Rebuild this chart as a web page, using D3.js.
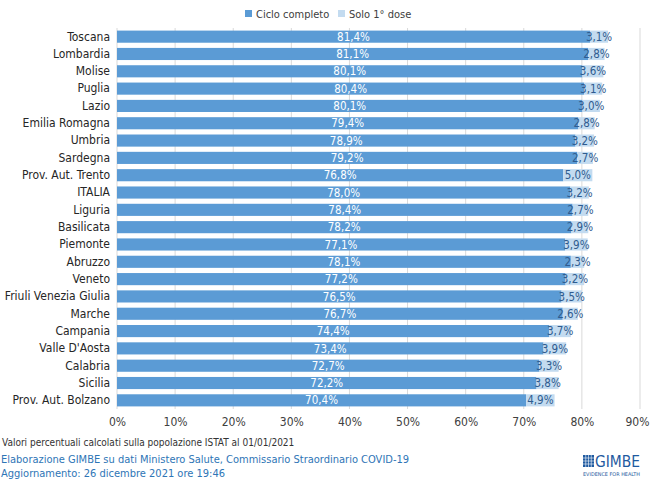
<!DOCTYPE html>
<html>
<head>
<meta charset="utf-8">
<script src="https://cdn.jsdelivr.net/npm/d3@7"></script>
<style>
  body { margin: 0; background: #fff; }
  text { font-family: "Liberation Sans Narrow", "Arial Narrow", "DejaVu Sans Condensed", sans-serif; }
</style>
</head>
<body>
<div id="chart"></div>
<script>
// Data
const regions = ["Toscana", "Lombardia", "Molise", "Puglia", "Lazio", "Emilia Romagna", "Umbria",
  "Sardegna", "Prov. Aut. Trento", "ITALIA", "Liguria", "Basilicata", "Piemonte", "Abruzzo",
  "Veneto", "Friuli Venezia Giulia", "Marche", "Campania", "Valle D'Aosta", "Calabria",
  "Sicilia", "Prov. Aut. Bolzano"];
const cicloCompleto = [81.4, 81.1, 80.1, 80.4, 80.1, 79.4, 78.9, 79.2, 76.8, 78.0, 78.4,
  78.2, 77.1, 78.1, 77.2, 76.5, 76.7, 74.4, 73.4, 72.7, 72.2, 70.4];
const soloPrimaDose = [3.1, 2.8, 3.6, 3.1, 3.0, 2.8, 3.2, 2.7, 5.0, 3.2, 2.7,
  2.9, 3.9, 2.3, 3.2, 3.5, 2.6, 3.7, 3.9, 3.3, 3.8, 4.9];
const xTicks = [0, 10, 20, 30, 40, 50, 60, 70, 80, 90];
const seriesNames = ["Ciclo completo", "Solo 1° dose"];

const colors = ["#5b9bd5", "#c3dbf0"];
const fmt = v => v.toFixed(1).replace(".", ",") + "%";

// Dimensions
const width = 650;
const height = 479;
const margin = {top: 28, right: 10, bottom: 70, left: 117};

const svg = d3.select("#chart")
  .append("svg")
    .attr("width", width)
    .attr("height", height);

const data = regions.map((r, i) => ({region: r, full: cicloCompleto[i], first: soloPrimaDose[i]}));

// Scales
const x = d3.scaleLinear().domain([0, 90]).range([margin.left, 640]);
const y = d3.scaleBand().domain(regions).range([margin.top, height - margin.bottom]).paddingInner(0.3).paddingOuter(0.15);

// Gridlines
svg.append("g")
  .selectAll("line")
  .data(xTicks)
  .join("line")
    .attr("x1", d => x(d)).attr("x2", d => x(d))
    .attr("y1", margin.top).attr("y2", height - margin.bottom)
    .attr("stroke", "#d9d9d9")
    .attr("stroke-width", 1);

// Bars
const rows = svg.append("g")
  .selectAll("g")
  .data(data)
  .join("g");

rows.append("rect")
  .attr("x", d => x(0))
  .attr("y", d => y(d.region))
  .attr("width", d => x(d.full) - x(0))
  .attr("height", y.bandwidth())
  .attr("fill", colors[0]);

rows.append("rect")
  .attr("x", d => x(d.full))
  .attr("y", d => y(d.region))
  .attr("width", d => x(d.full + d.first) - x(d.full))
  .attr("height", y.bandwidth())
  .attr("fill", colors[1]);

// Value labels
rows.append("text")
  .attr("x", d => (x(0) + x(d.full)) / 2)
  .attr("y", d => y(d.region) + y.bandwidth() / 2)
  .attr("dy", "0.36em")
  .attr("text-anchor", "middle")
  .attr("fill", "#fff")
  .attr("font-size", 11.5)
  .text(d => fmt(d.full));

rows.append("text")
  .attr("x", d => (x(d.full) + x(d.full + d.first)) / 2)
  .attr("y", d => y(d.region) + y.bandwidth() / 2)
  .attr("dy", "0.36em")
  .attr("text-anchor", "middle")
  .attr("fill", "#2f5b8f")
  .attr("font-size", 11.5)
  .text(d => fmt(d.first));

// y axis labels
svg.append("g")
  .attr("transform", `translate(${margin.left}, 0)`)
  .call(d3.axisLeft(y).tickSize(0).tickPadding(7))
  .call(g => g.select(".domain").remove())
  .call(g => g.selectAll("text")
    .attr("font-size", 12)
    .attr("fill", "#262626")
    .style("font-family", null));

// x axis
svg.append("g")
  .attr("transform", `translate(0, ${height - margin.bottom})`)
  .call(d3.axisBottom(x).tickValues(xTicks).tickFormat(d => d + "%").tickSize(0).tickPadding(8))
  .call(g => g.select(".domain").remove())
  .call(g => g.selectAll("text")
    .attr("font-size", 12)
    .attr("fill", "#404040")
    .style("font-family", null))
  // last label sits flush with the right edge
  .call(g => g.selectAll(".tick:last-of-type text")
    .attr("text-anchor", "end")
    .attr("dx", 9));

// Legend
const legend = svg.append("g").attr("transform", "translate(245, 14)");
const legendX = [0, 93];
seriesNames.forEach((name, i) => {
  legend.append("rect")
    .attr("x", legendX[i]).attr("y", -4)
    .attr("width", 7).attr("height", 7)
    .attr("fill", colors[i]);
  legend.append("text")
    .attr("x", legendX[i] + 11).attr("y", 0)
    .attr("dy", "0.36em")
    .attr("font-size", 11)
    .attr("fill", "#404040")
    .text(name);
});

// Footer notes
svg.append("text")
  .attr("x", 2).attr("y", 446)
  .attr("font-size", 10)
  .attr("fill", "#333")
  .text("Valori percentuali calcolati sulla popolazione ISTAT al 01/01/2021");

svg.append("text")
  .attr("x", 1).attr("y", 463)
  .attr("font-size", 11)
  .attr("fill", "#2e75b6")
  .text("Elaborazione GIMBE su dati Ministero Salute, Commissario Straordinario COVID-19");

svg.append("text")
  .attr("x", 1).attr("y", 477)
  .attr("font-size", 11)
  .attr("fill", "#2e75b6")
  .text("Aggiornamento: 26 dicembre 2021 ore 19:46");

// GIMBE logo
const logo = svg.append("g").attr("transform", "translate(583, 453)");
logo.append("rect").attr("x", 0).attr("y", 2).attr("width", 11).attr("height", 12).attr("fill", "#1f5aa0");
logo.selectAll(".gl")
  .data([2.75, 5.5, 8.25])
  .join("line")
    .attr("x1", d => d).attr("x2", d => d).attr("y1", 2).attr("y2", 14)
    .attr("stroke", "#fff").attr("stroke-width", 0.6);
logo.selectAll(".gh")
  .data([5, 8, 11])
  .join("line")
    .attr("x1", 0).attr("x2", 11).attr("y1", d => d).attr("y2", d => d)
    .attr("stroke", "#fff").attr("stroke-width", 0.6);
logo.append("text")
  .attr("x", 12).attr("y", 14)
  .attr("font-size", 15)
  .attr("fill", "#1f5aa0")
  .attr("textLength", 45)
  .attr("lengthAdjust", "spacingAndGlyphs")
  .text("GIMBE");
logo.append("text")
  .attr("x", 0).attr("y", 23)
  .attr("font-size", 5)
  .attr("fill", "#1f5aa0")
  .attr("textLength", 57)
  .attr("lengthAdjust", "spacingAndGlyphs")
  .text("EVIDENCE FOR HEALTH");
</script>
</body>
</html>
